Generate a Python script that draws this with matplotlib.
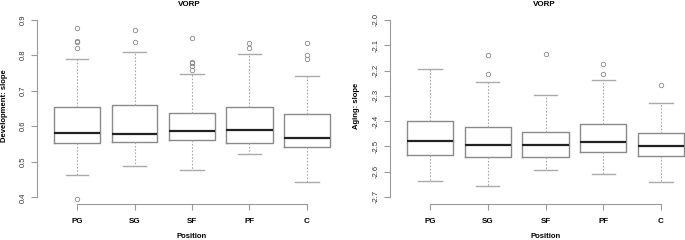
import numpy as np
import matplotlib
matplotlib.use("Agg")
import matplotlib.pyplot as plt

plt.rcParams["font.family"] = ["Liberation Sans", "DejaVu Sans"]

positions = ["PG", "SG", "SF", "PF", "C"]

# development slope: (lower whisker, Q1, median, Q3, upper whisker)
dev_stats = [
    (0.464, 0.552, 0.582, 0.653, 0.790),
    (0.489, 0.555, 0.579, 0.659, 0.810),
    (0.476, 0.560, 0.587, 0.638, 0.747),
    (0.521, 0.552, 0.588, 0.653, 0.803),
    (0.442, 0.542, 0.567, 0.634, 0.742),
]
dev_fliers = [
    [0.876, 0.839, 0.836, 0.819, 0.394],
    [0.870, 0.838],
    [0.849, 0.782, 0.777, 0.770, 0.758],
    [0.834, 0.819],
    [0.835, 0.800, 0.790],
]

# aging slope
age_stats = [
    (-2.637, -2.534, -2.478, -2.399, -2.195),
    (-2.658, -2.542, -2.495, -2.424, -2.246),
    (-2.593, -2.541, -2.495, -2.443, -2.297),
    (-2.609, -2.522, -2.484, -2.412, -2.239),
    (-2.642, -2.537, -2.497, -2.447, -2.329),
]
age_fliers = [
    [],
    [-2.138, -2.214],
    [-2.136],
    [-2.175, -2.213],
    [-2.259],
]

W, H = 685, 240
fig = plt.figure(figsize=(W / 100, H / 100), dpi=100)

box_col = "#8a8a8a"
axis_col = "#9a9a9a"


def px_axes(left, right, bottom, top):
    return fig.add_axes([left / W, 1 - bottom / H, (right - left) / W, (bottom - top) / H])


def draw_panel(ax, stats, fliers, ylim, yticks, ylabel, x1px, unit, ylabel_x, title_x):
    bxp = []
    for name, s, f in zip(positions, stats, fliers):
        bxp.append(dict(label=name, whislo=s[0], q1=s[1], med=s[2], q3=s[3], whishi=s[4], fliers=f))
    ax.bxp(bxp, positions=range(1, 6), widths=0.8, showfliers=True,
           boxprops=dict(color=box_col, linewidth=1.0),
           medianprops=dict(color="#222222", linewidth=1.6, solid_capstyle="butt"),
           whiskerprops=dict(color="#aaaaaa", linewidth=0.8, linestyle=(0, (1.5, 1.5))),
           capprops=dict(color="#aaaaaa", linewidth=1.0),
           flierprops=dict(marker="o", markersize=3.2, markerfacecolor="none",
                           markeredgecolor="#888888", markeredgewidth=0.6))
    ax.set_ylim(*ylim)
    ax.set_yticks(yticks)
    ax.set_yticklabels([f"{t:.1f}" for t in yticks], rotation=90, va="center",
                       fontsize=5.5)
    ax.set_xticks(range(1, 6))
    ax.set_xticklabels(positions, fontsize=5.8, fontweight="bold")
    for s in ["top", "right"]:
        ax.spines[s].set_visible(False)
    ax.spines["left"].set_bounds(yticks[0], yticks[-1])
    ax.spines["bottom"].set_bounds(1, 5)
    for s in ["left", "bottom"]:
        ax.spines[s].set_color(axis_col)
        ax.spines[s].set_linewidth(0.8)
    ax.tick_params(colors=axis_col, length=4, width=0.8, pad=3)
    ax.tick_params(axis="x", labelcolor="black", pad=6)
    ax.tick_params(axis="y", labelcolor="#333333")
    fig.text(ylabel_x / W, 1 - 106 / H, ylabel, rotation=90, ha="center", va="center",
             fontsize=5.5, fontweight="bold")
    fig.text(title_x / W, 1 - 5 / H, "VORP", ha="center", va="center",
             fontsize=5.8, fontweight="bold")
    fig.text((x1px + 2 * unit) / W, 1 - 236 / H, "Position", ha="center", va="center",
             fontsize=5.5, fontweight="bold")


# left panel
unit_l, x1_l = 57.5, 77
left_l = x1_l - 0.7 * unit_l
ax1 = px_axes(left_l, 340, 204, 12.9)
ax1.set_xlim(0.3, 1 + (340 - x1_l) / unit_l)
draw_panel(ax1, dev_stats, dev_fliers, (0.381, 0.9 + 0.019), [0.4, 0.5, 0.6, 0.7, 0.8, 0.9],
           "Development: slope", x1_l, unit_l, 4.5, 189)

# right panel
unit_r, x1_r = 57.75, 430
left_r = x1_r - 0.7 * unit_r
ax2 = px_axes(left_r, 685, 204, 12.9)
ax2.set_xlim(0.3, 1 + (685 - x1_r) / unit_r)
draw_panel(ax2, age_stats, age_fliers, (-2.728, -1.972),
           [-2.7, -2.6, -2.5, -2.4, -2.3, -2.2, -2.1, -2.0],
           "Aging: slope", x1_r, unit_r, 357, 544)

fig.savefig("out.png", dpi=100)
